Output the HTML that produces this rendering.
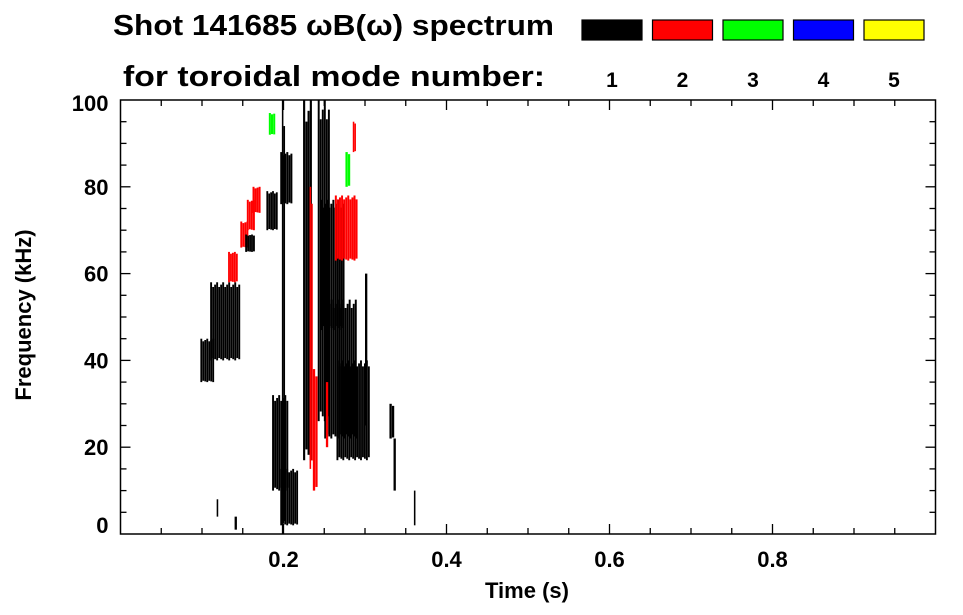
<!DOCTYPE html>
<html><head><meta charset="utf-8"><style>
html,body{margin:0;padding:0;background:#fff;}
svg{display:block;font-family:"Liberation Sans",sans-serif;font-weight:bold;}
</style></head><body>
<svg id="chart" width="963" height="615" viewBox="0 0 963 615">
<text x="113" y="35" font-size="29" textLength="441" lengthAdjust="spacingAndGlyphs">Shot 141685 ωB(ω) spectrum</text>
<text x="123" y="86" font-size="29" textLength="422" lengthAdjust="spacingAndGlyphs">for toroidal mode number:</text>
<g id="legend"></g>
<g id="marks"></g>
<g id="axes"></g>
<text x="527" y="598" font-size="22" text-anchor="middle">Time (s)</text>
<text transform="translate(31,315) rotate(-90)" font-size="22" text-anchor="middle">Frequency (kHz)</text>
</svg>
<script>
const modes = [1,2,3,4,5];
const modeColors = ["#000000","#ff0000","#00ff00","#0000ff","#ffff00"];
const xTicks = [0.2,0.4,0.6,0.8];
const yTicks = [0,20,40,60,80,100];
// clusters: [t0, t1, f0, f1, mode]
const clusterT0 = [0.098,0.110,0.132,0.147,0.155,0.162,0.153,0.179,0.196,0.186,0.196,0.198,0.224,0.232,0.236,0.242,0.245,0.250,0.265,0.263,0.182,0.252,0.300,0.335,0.118,0.140,0.360,0.276,0.285,0.330];
const clusterT1 = [0.115,0.147,0.144,0.157,0.165,0.172,0.165,0.193,0.211,0.206,0.218,0.202,0.235,0.236,0.242,0.257,0.275,0.290,0.306,0.291,0.190,0.255,0.303,0.338,0.120,0.143,0.362,0.282,0.289,0.336];
const clusterF0 = [35,40,58,66,70,74,65,70,76,10,2,0,17,15,10,26,47,22,17,63,92,20,25,10,4,1,2,80,88,22];
const clusterF1 = [45,58,65,72,77,80,69,79,88,32,15,100,100,80,38,100,77,54,40,78,97,35,60,22,8,4,10,88,95,30];
const clusterMode = [1,1,2,2,2,2,1,1,1,1,1,1,1,2,2,1,1,1,1,2,3,2,1,1,1,1,1,3,2,1];

const X0=120.5, X1=935.5, Y0=534, Y1=100;
const xs = t => X0 + (t-0)/(1.0-0)*(X1-X0);
const ys = f => Y0 - (f-0)/(100-0)*(Y0-Y1);
const NS="http://www.w3.org/2000/svg";
function mk(tag, attrs, parent){const e=document.createElementNS(NS,tag);for(const k in attrs)e.setAttribute(k,attrs[k]);parent.appendChild(e);return e;}

const marks=document.getElementById('marks');
for(let i=0;i<clusterT0.length;i++){
  const x0=xs(clusterT0[i]), x1=xs(clusterT1[i]);
  const y0=ys(clusterF1[i]), y1=ys(clusterF0[i]);
  const w=x1-x0;
  const n=Math.max(1,Math.round(w/2));
  const sw=w/n;
  for(let j=0;j<n;j++){
    const shrink=(j%3===1)?0.06:((j%3===2)?0.03:0);
    const h=y1-y0;
    const r=mk('rect',{x:(x0+j*sw).toFixed(2),y:(y0+h*shrink).toFixed(2),width:(sw*0.95).toFixed(2),height:(h*(1-shrink*1.5)).toFixed(2),fill:modeColors[clusterMode[i]-1]},marks);
    
    
  }
}

const axes=document.getElementById('axes');
const frame=mk('rect',{x:X0,y:Y1,width:X1-X0,height:Y0-Y1,fill:'none',stroke:'#000','stroke-width':1.5},axes);


for(let k=1;k<20;k++){
  const t=k*0.05, x=xs(t), major=(k%4===0);
  const L=major?10:6;
  mk('line',{x1:x,x2:x,y1:Y0,y2:Y0-L,stroke:'#000','stroke-width':1.3},axes);
  mk('line',{x1:x,x2:x,y1:Y1,y2:Y1+L,stroke:'#000','stroke-width':1.3},axes);
}
xTicks.forEach(t=>{
  const tx=mk('text',{x:xs(t),y:Y0+33,'font-size':22,'text-anchor':'middle'},axes);
  tx.textContent=t.toFixed(1);
  
  
});
for(let k=1;k<20;k++){
  const f=k*5, y=ys(f), major=(k%4===0);
  const L=major?10:6;
  mk('line',{x1:X0,x2:X0+L,y1:y,y2:y,stroke:'#000','stroke-width':1.3},axes);
  mk('line',{x1:X1,x2:X1-L,y1:y,y2:y,stroke:'#000','stroke-width':1.3},axes);
}
yTicks.forEach(f=>{
  const yy=f===0?ys(f)-1:(f===100?ys(f)+11:ys(f)+8);
  const tx=mk('text',{x:X0-12,y:yy,'font-size':22,'text-anchor':'end'},axes);
  tx.textContent=String(f);
  
  
});

const legend=document.getElementById('legend');
modes.forEach((m,i)=>{
  const x=582+i*70.5;
  const r=mk('rect',{x:x,y:20,width:60,height:20,fill:modeColors[i],stroke:'#000','stroke-width':1.2},legend);
  
  
  const t=mk('text',{x:x+30,y:87,'font-size':21,'text-anchor':'middle'},legend);
  t.textContent=String(m);
  
  
});
</script>
</body></html>
